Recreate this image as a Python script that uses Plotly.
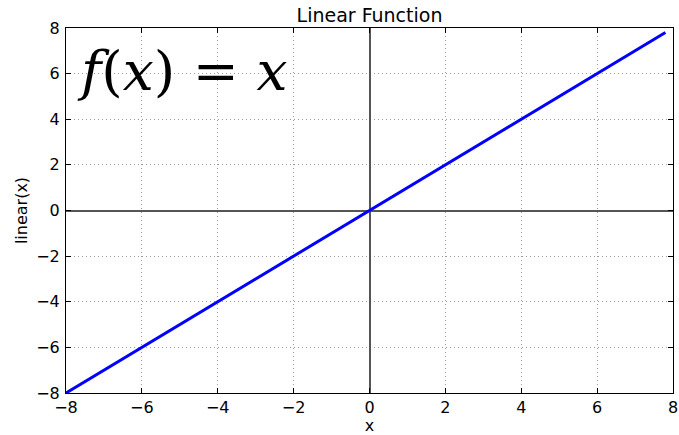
import plotly.graph_objects as go

# punkty prostej f(x) = x
x_vals = [-8.0, 7.8]
y_vals = [-8.0, 7.8]

tick_vals = [-8, -6, -4, -2, 0, 2, 4, 6, 8]

fig = go.Figure()

fig.add_trace(go.Scatter(x=x_vals, y=y_vals, mode='lines',
                         line=dict(color='#0000ff', width=3), showlegend=False))

axis_style = dict(
    range=[-8, 8],
    tickvals=tick_vals,
    ticks='inside',
    ticklen=5,
    tickcolor='black',
    showline=True,
    linecolor='black',
    linewidth=1,
    mirror='ticks',
    showgrid=True,
    gridcolor='#9a9a9a',
    griddash='1px,3px',
    gridwidth=1,
    zeroline=True,
    zerolinecolor='#555555',
    zerolinewidth=1.5,
    automargin=False,
    tickfont=dict(family='DejaVu Sans', size=16, color='black'),
)

fig.update_xaxes(**axis_style, title=dict(text='x', standoff=2,
                 font=dict(family='DejaVu Sans', size=16, color='black')))
fig.update_yaxes(**axis_style, ticklabelstandoff=2, title=dict(text='linear(x)', standoff=4,
                 font=dict(family='DejaVu Sans', size=16, color='black')))

# wzór w lewym górnym rogu
fig.add_annotation(text='<i>f</i>(<i>x</i>) = <i>x</i>', xref='paper', yref='paper',
                   x=0.015, y=0.975, xanchor='left', yanchor='top', showarrow=False,
                   font=dict(family='DejaVu Serif', size=55, color='black'))

fig.update_layout(
    width=679, height=435,
    margin=dict(l=66, r=6, t=28, b=42),
    paper_bgcolor='white', plot_bgcolor='white',
    title=dict(text='Linear Function', x=0.5, xref='paper', y=1.0, yref='paper',
               yanchor='bottom', pad=dict(b=6), font=dict(family='DejaVu Sans', size=19, color='black')),
)

# usuń domyślny margines body (8px), żeby figura zaczynała się w rogu okna
fig.write_html("out.html", config={'displayModeBar': False},
               post_script="document.body.style.margin='0';")
